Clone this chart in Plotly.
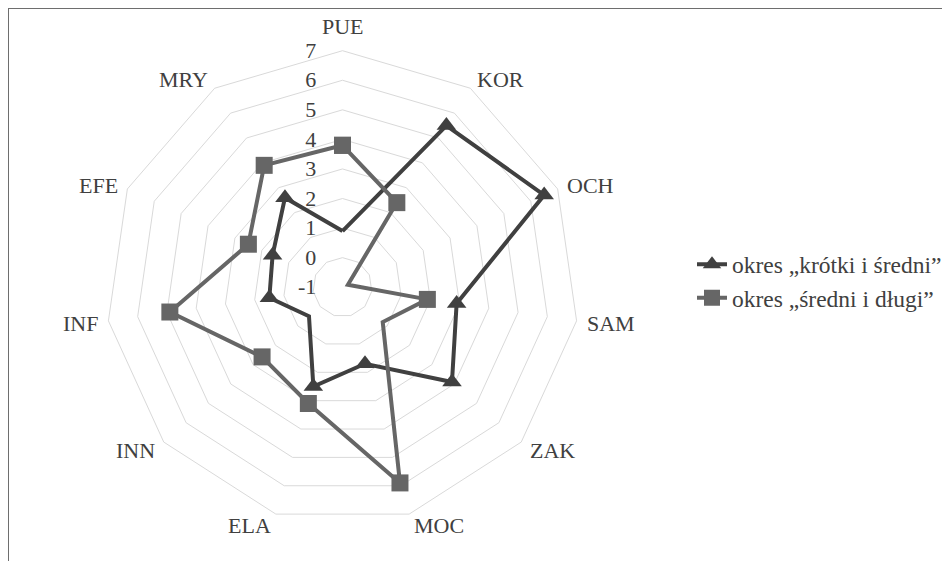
import math
import plotly.graph_objects as go

# categories (clockwise from the top)
categories = ["PUE", "KOR", "OCH", "SAM", "ZAK", "MOC", "ELA", "INN", "INF", "EFE", "MRY"]

# series values
short_mid = [0.9, 5.5, 6.5, 2.9, 3.9, 1.7, 2.5, 0.5, 1.5, 1.6, 2.6]
mid_long = [3.8, 2.4, -0.8, 1.9, 0.8, 5.9, 3.1, 2.6, 4.9, 2.5, 3.9]

series_names = ["okres „krótki i średni”", "okres „średni i długi”"]
radial_ticks = [-1, 0, 1, 2, 3, 4, 5, 6, 7]
radial_labels = ["-1", "0", "1", "2", "3", "4", "5", "6", "7"]

W, H = 950, 561
OFF = 8  # the page body margin shifts the figure by 8 px
FONT = "Liberation Serif, Times New Roman, serif"
TEXT = "#404040"
GRID = "#d9d9d9"


def closed(vals):
    return vals + vals[:1]


fig = go.Figure()

fig.add_trace(go.Scatterpolar(
    r=closed(short_mid),
    theta=closed(categories),
    name=series_names[0],
    mode="lines+markers",
    line=dict(color="#404040", width=4),
    marker=dict(symbol="triangle-up", size=17, color="#404040"),
))

fig.add_trace(go.Scatterpolar(
    r=closed(mid_long),
    theta=closed(categories),
    name=series_names[1],
    mode="lines+markers",
    line=dict(color="#666666", width=4),
    marker=dict(symbol="square", size=17, color="#666666"),
))

# polar area: centre at (342, 287) px on the page, radius ~236 px
cx, cy, R = 342.5 - OFF, 287.2 - OFF, 236.5

# category labels placed outside the polygon corners, Excel style
annotations = []
n = len(categories)
for i, name in enumerate(categories):
    a = math.radians(i * 360 / n)
    s, c = math.sin(a), math.cos(a)
    vx, vy = cx + R * s, cy - R * c
    if abs(s) < 0.1:
        x, y, xa = vx, vy - 24, "center"
    else:
        gap = 1 + 7 * abs(s)
        x = vx + gap if s > 0 else vx - gap
        y = vy + 1 - 11 * c
        xa = "left" if s > 0 else "right"
    annotations.append(dict(
        text=name, x=x / W, y=1 - y / H, xref="paper", yref="paper",
        xanchor=xa, yanchor="middle", showarrow=False,
        font=dict(family=FONT, size=22, color=TEXT),
    ))

fig.update_layout(
    width=W, height=H,
    margin=dict(l=0, r=0, t=0, b=0),
    paper_bgcolor="white",
    font=dict(family=FONT, size=22, color=TEXT),
    polar=dict(
        domain=dict(x=[(cx - R) / W, (cx + R) / W],
                    y=[(H - cy - R) / H, (H - cy + R) / H]),
        bgcolor="white",
        gridshape="linear",
        radialaxis=dict(
            range=[-1, 7],
            tickvals=radial_ticks,
            ticktext=radial_labels,
            angle=90,
            tickangle=90,
            side="counterclockwise",
            showline=False,
            ticks="outside",
            ticklen=18,
            tickcolor="rgba(0,0,0,0)",
            gridcolor=GRID,
            gridwidth=1,
            tickfont=dict(family=FONT, size=22, color=TEXT),
        ),
        angularaxis=dict(
            direction="clockwise",
            rotation=90,
            showgrid=False,
            showline=True,
            linecolor=GRID,
            linewidth=1,
            showticklabels=False,
            ticks="",
        ),
    ),
    legend=dict(
        x=(692 - OFF) / W, y=0.5125, xanchor="left", yanchor="middle",
        font=dict(family=FONT, size=23.5, color=TEXT),
        bgcolor="rgba(0,0,0,0)",
    ),
    annotations=annotations,
    shapes=[dict(
        type="rect", xref="paper", yref="paper",
        x0=0, x1=1.05, y0=-0.05, y1=1,
        line=dict(color="#6e6e6e", width=2),
    )],
)

fig.write_html("out.html")
